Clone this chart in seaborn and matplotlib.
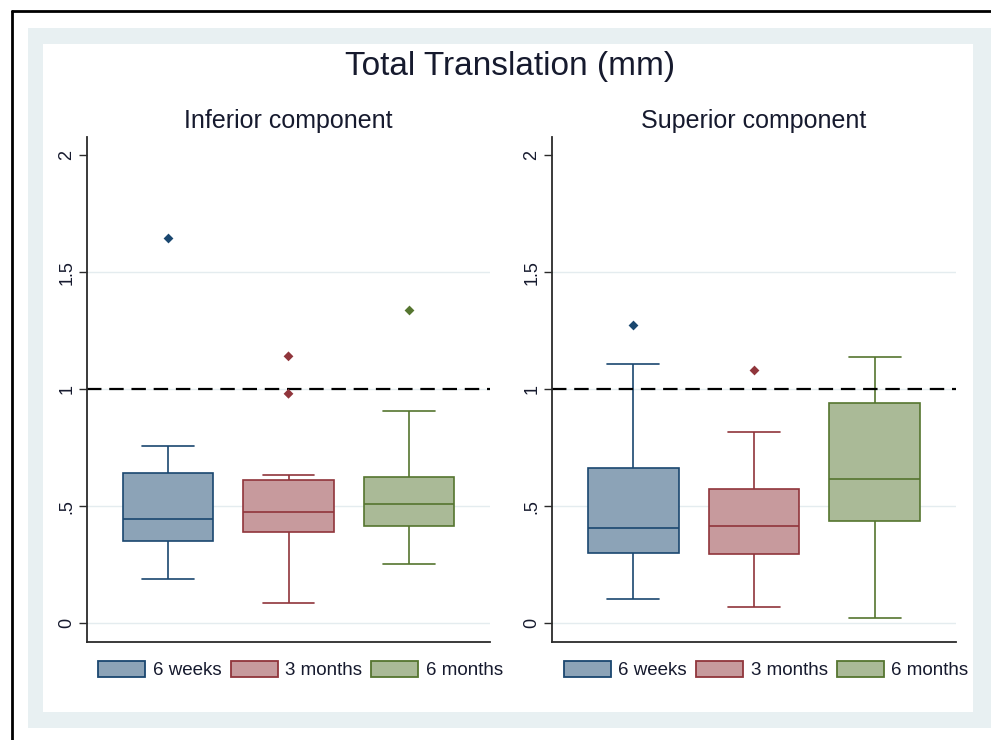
import pandas as pd
import matplotlib
matplotlib.use("Agg")
import matplotlib.pyplot as plt
import seaborn as sns
from matplotlib.patches import Patch, Rectangle
from matplotlib.lines import Line2D

# categories
periods = ["6 weeks", "3 months", "6 months"]
panels = ["Inferior component", "Superior component"]

# five number summaries: low whisker, Q1, median, Q3, high whisker
inf_6w = [0.188, 0.353, 0.445, 0.641, 0.759]
inf_3m = [0.085, 0.391, 0.477, 0.613, 0.633]
inf_6m = [0.253, 0.417, 0.510, 0.626, 0.908]
sup_6w = [0.104, 0.299, 0.406, 0.665, 1.106]
sup_3m = [0.070, 0.295, 0.417, 0.574, 0.817]
sup_6m = [0.024, 0.438, 0.614, 0.941, 1.137]

# outside values
inf_out_period = ["6 weeks", "3 months", "3 months", "6 months"]
inf_out_value = [1.646, 1.140, 0.980, 1.338]
sup_out_period = ["6 weeks", "3 months"]
sup_out_value = [1.273, 1.083]

# axis ticks
ytick_vals = [0, 0.5, 1, 1.5, 2]
ytick_labels = ["0", ".5", "1", "1.5", "2"]
ref_line = 1

fill_colors = ["#8ca3b7", "#c79a9d", "#aaba97"]
edge_colors = ["#1a476f", "#90353b", "#55752f"]
text_color = "#161a2e"

# build long tables for seaborn
rows = []
for panel, groups in zip(panels, [[inf_6w, inf_3m, inf_6m], [sup_6w, sup_3m, sup_6m]]):
    for period, vals in zip(periods, groups):
        for v in vals:
            rows.append({"panel": panel, "period": period, "value": v})
box_df = pd.DataFrame(rows)

out_df = pd.DataFrame({
    "panel": [panels[0]] * len(inf_out_value) + [panels[1]] * len(sup_out_value),
    "period": inf_out_period + sup_out_period,
    "value": inf_out_value + sup_out_value,
})

sns.set_theme(style="white")
plt.rcParams['font.family'] = ['Liberation Sans', 'DejaVu Sans']

W, H = 991, 740
fig = plt.figure(figsize=(W / 100, H / 100), dpi=100)
fig.patch.set_facecolor("white")

# stata-like graph region
fig.add_artist(Rectangle((28 / W, 1 - 728 / H), (W - 28) / W, 700 / H,
                         transform=fig.transFigure, facecolor="#e8f0f2", edgecolor="none", zorder=-3))
fig.add_artist(Rectangle((43 / W, 1 - 712 / H), 930 / W, 668 / H,
                         transform=fig.transFigure, facecolor="white", edgecolor="none", zorder=-2))
fig.add_artist(Line2D([12 / W, 1], [1 - 11 / H, 1 - 11 / H], transform=fig.transFigure,
                      color="black", lw=2))
fig.add_artist(Line2D([12 / W, 12 / W], [0, 1 - 11 / H], transform=fig.transFigure,
                      color="black", lw=2))

fig.text(510 / W, 1 - 66 / H, "Total Translation (mm)", ha="center", va="center",
         fontsize=24, color=text_color)

ax_bottom = 1 - 641.7 / H
ax_height = 504.7 / H
axes = [fig.add_axes([87 / W, ax_bottom, 403 / W, ax_height]),
        fig.add_axes([552 / W, ax_bottom, 404 / W, ax_height])]

for ax, panel in zip(axes, panels):
    sub = box_df[box_df["panel"] == panel]
    for i, period in enumerate(periods):
        sns.boxplot(data=sub[sub["period"] == period], x="period", y="value", order=periods,
                    whis=(0, 100), width=0.75, color=fill_colors[i], linecolor=edge_colors[i],
                    linewidth=1.2, saturation=1, capwidths=0.43, ax=ax)

    outs = out_df[out_df["panel"] == panel]
    sns.stripplot(data=outs, x="period", y="value", order=periods, hue="period",
                  hue_order=periods, palette=edge_colors, marker="D", size=5, jitter=False,
                  linewidth=0, legend=False, zorder=3, ax=ax)

    ax.axhline(ref_line, color="black", lw=1.6, ls=(0, (6.5, 3.5)), zorder=2.5)

    ax.set_xlim(-0.675, 2.675)
    ax.set_ylim(-0.079, 2.077)
    ax.set_xticks([])
    ax.set_xlabel("")
    ax.set_ylabel("")
    ax.set_yticks(ytick_vals)
    ax.set_yticklabels(ytick_labels, rotation=90, va="center")
    ax.tick_params(axis="y", left=True, length=6, width=1, color="#2b2b2b",
                   labelsize=13, pad=2.5, labelcolor=text_color)
    ax.yaxis.grid(True, color="#e4ecef", lw=1)
    ax.get_ygridlines()[-1].set_visible(False)
    ax.set_axisbelow(True)
    for s in ["top", "right"]:
        ax.spines[s].set_visible(False)
    for s in ["left", "bottom"]:
        ax.spines[s].set_color("#2b2b2b")
        ax.spines[s].set_linewidth(1.3)
    ax.set_facecolor("white")

    ax.set_title(panel, fontsize=18, pad=6.5, color=text_color)

    handles = [Patch(facecolor=f, edgecolor=e, linewidth=1.3, label=p)
               for f, e, p in zip(fill_colors, edge_colors, periods)]
    ax.legend(handles=handles, loc="center", bbox_to_anchor=(0.53, -0.056), ncol=3,
              frameon=False, fontsize=13.5, handlelength=2.5, handleheight=0.96,
              handletextpad=0.4, columnspacing=0.5, borderaxespad=0, borderpad=0,
              labelcolor=text_color)

fig.savefig("out.png", dpi=100)
